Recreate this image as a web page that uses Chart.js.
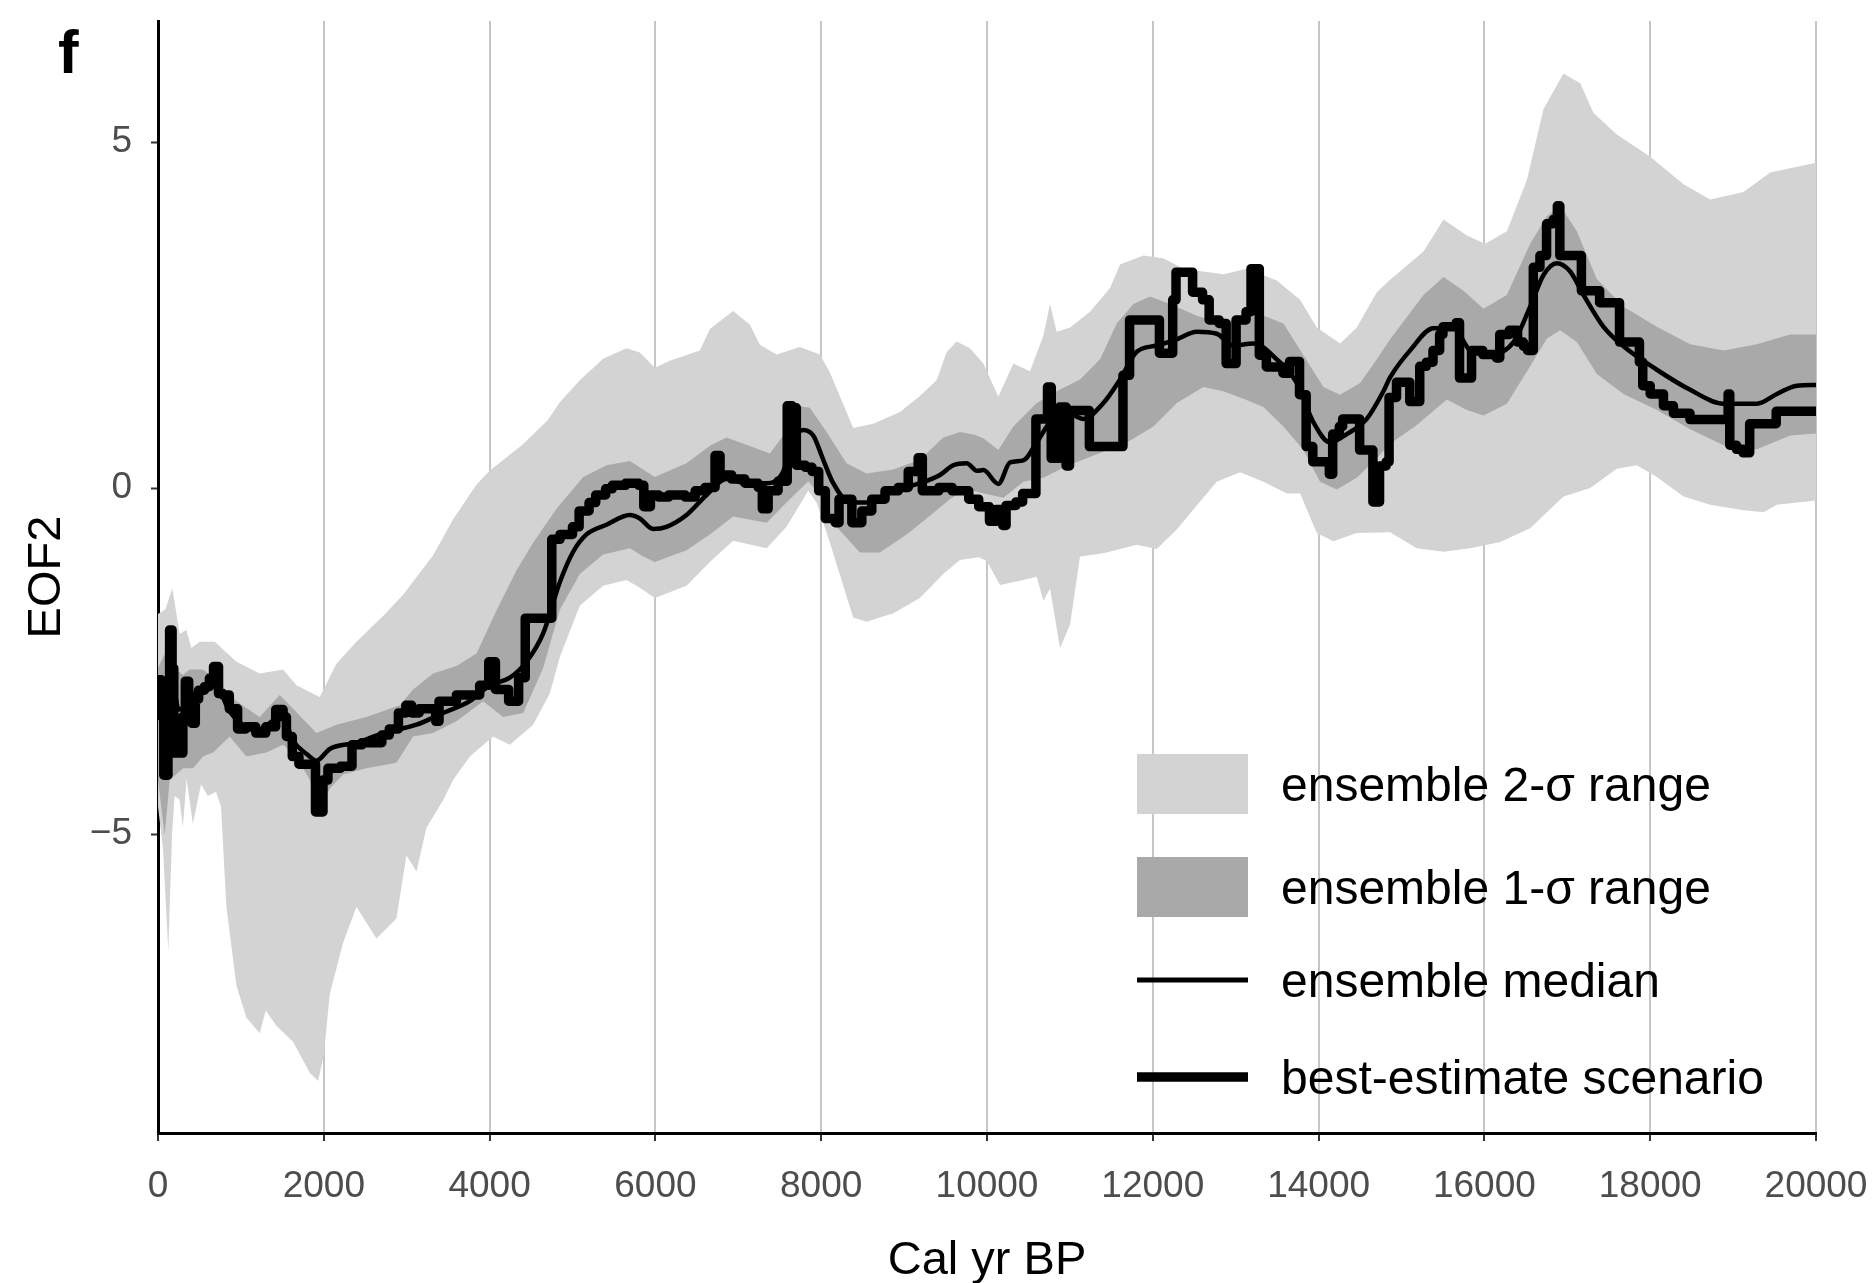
<!DOCTYPE html>
<html>
<head>
<meta charset="utf-8">
<title>EOF2</title>
<script src="https://cdn.jsdelivr.net/npm/chart.js@4.4.1/dist/chart.umd.min.js"></script>
<style>
  html, body { margin: 0; padding: 0; background: #fff; }
  #wrap { width: 1874px; height: 1283px; }
</style>
</head>
<body>
<div id="wrap"><canvas id="eofChart" width="1874" height="1283"></canvas></div>
<script>
// ensemble 2-sigma range
const sigma2UpperYears = [0, 90, 173, 262, 342, 403, 503, 684, 946, 1227, 1509, 1670, 1951, 2152, 2394, 2715, 2957, 3319, 3560, 3842, 4000, 4400, 4700, 4847, 5088, 5370, 5651, 5812, 5993, 6174, 6536, 6657, 6938, 7140, 7260, 7461, 7743, 7984, 8105, 8386, 8628, 8950, 9191, 9392, 9512, 9633, 9794, 9956, 10137, 10318, 10519, 10680, 10760, 10841, 11002, 11243, 11484, 11605, 11886, 12128, 12369, 12852, 13133, 13495, 13777, 13978, 14259, 14460, 14702, 14863, 15265, 15507, 15788, 16009, 16271, 16512, 16713, 16954, 17156, 17316, 17598, 18000, 18402, 18724, 19126, 19448, 20000];
const sigma2Upper = [-1.82, -1.75, -1.45, -2.11, -2.05, -2.31, -2.22, -2.22, -2.51, -2.68, -2.62, -2.85, -3.02, -2.54, -2.22, -1.85, -1.54, -0.97, -0.45, 0.05, 0.25, 0.63, 0.98, 1.24, 1.56, 1.87, 2.02, 1.96, 1.74, 1.84, 1.99, 2.30, 2.56, 2.36, 2.07, 1.93, 2.04, 1.93, 1.67, 0.87, 0.93, 1.10, 1.33, 1.56, 1.96, 2.12, 2.02, 1.80, 1.32, 1.80, 1.69, 2.20, 2.66, 2.26, 2.32, 2.55, 2.89, 3.23, 3.36, 3.32, 3.17, 3.09, 3.17, 3.00, 2.72, 2.32, 2.09, 2.32, 2.83, 3.01, 3.42, 3.88, 3.65, 3.53, 3.71, 4.45, 5.48, 5.99, 5.85, 5.42, 5.11, 4.79, 4.39, 4.17, 4.28, 4.56, 4.70];
const sigma2LowerYears = [0, 60, 124, 170, 200, 260, 300, 345, 420, 520, 600, 700, 760, 825, 946, 1066, 1227, 1300, 1428, 1629, 1831, 1931, 2000, 2072, 2233, 2394, 2635, 2876, 2997, 3118, 3238, 3439, 3560, 3761, 4043, 4244, 4525, 4726, 4847, 5088, 5370, 5651, 5812, 5993, 6375, 6657, 6938, 7341, 7582, 7843, 7944, 8105, 8386, 8547, 8869, 9191, 9472, 9673, 9900, 9996, 10157, 10398, 10600, 10680, 10760, 10881, 11002, 11122, 11404, 11806, 12047, 12289, 12530, 12771, 13053, 13334, 13616, 13777, 13978, 14179, 14460, 14863, 15185, 15507, 15828, 16190, 16552, 16954, 17276, 17598, 17839, 18080, 18402, 18724, 19126, 19368, 19528, 20000];
const sigma2Lower = [-4.6, -5.2, -6.68, -5.0, -4.45, -4.5, -4.9, -4.2, -4.85, -4.28, -4.45, -4.39, -4.6, -6.05, -7.19, -7.65, -7.88, -7.55, -7.77, -8.0, -8.45, -8.57, -8.2, -7.31, -6.57, -6.05, -6.51, -6.22, -5.31, -5.54, -4.91, -4.51, -4.22, -3.88, -3.59, -3.71, -3.42, -2.97, -2.44, -1.70, -1.41, -1.33, -1.44, -1.59, -1.41, -1.07, -0.76, -0.87, -0.56, -0.04, -0.21, -0.79, -1.87, -1.93, -1.81, -1.59, -1.24, -1.04, -1.0, -1.05, -1.40, -1.34, -1.28, -1.63, -1.45, -2.31, -1.97, -0.99, -0.94, -0.82, -0.88, -0.60, -0.25, 0.09, 0.23, 0.09, -0.08, -0.08, -0.65, -0.77, -0.65, -0.64, -0.87, -0.92, -0.87, -0.78, -0.58, -0.12, 0.0, 0.28, 0.33, 0.16, -0.12, -0.24, -0.32, -0.35, -0.24, -0.18];

// ensemble 1-sigma range
const sigma1UpperYears = [0, 60, 141, 200, 300, 383, 543, 704, 946, 1227, 1468, 1589, 1911, 2152, 2514, 2917, 3077, 3319, 3600, 3842, 4083, 4324, 4525, 4807, 5129, 5410, 5692, 5853, 5993, 6375, 6657, 6858, 7180, 7381, 7542, 7702, 7863, 8065, 8306, 8547, 8869, 9191, 9472, 9673, 9850, 9956, 10137, 10318, 10600, 10841, 11122, 11364, 11565, 11766, 11967, 12208, 12530, 12852, 13214, 13576, 13817, 14058, 14259, 14501, 14702, 14863, 15265, 15507, 15748, 15989, 16271, 16552, 16754, 16914, 17115, 17356, 17678, 18080, 18482, 18885, 19287, 19689, 20000];
const sigma1Upper = [-2.6, -2.45, -2.28, -2.6, -2.7, -2.62, -2.62, -2.77, -3.08, -3.31, -2.99, -3.14, -3.54, -3.42, -3.31, -3.14, -2.91, -2.68, -2.57, -2.39, -1.77, -1.19, -0.79, -0.3, 0.16, 0.33, 0.39, 0.27, 0.16, 0.36, 0.61, 0.73, 0.59, 0.50, 0.76, 1.19, 1.16, 0.81, 0.36, 0.21, 0.27, 0.41, 0.73, 0.81, 0.77, 0.72, 0.55, 0.89, 1.23, 1.40, 1.57, 1.86, 2.38, 2.66, 2.77, 2.66, 2.49, 2.38, 2.55, 2.38, 1.92, 1.46, 1.35, 1.52, 1.86, 2.15, 2.79, 3.05, 2.85, 2.59, 2.79, 3.53, 3.93, 4.08, 3.71, 3.02, 2.62, 2.33, 2.08, 1.99, 2.08, 2.22, 2.22];
const sigma1LowerYears = [0, 81, 141, 302, 423, 543, 664, 865, 1066, 1308, 1509, 1670, 1831, 1951, 2072, 2233, 2514, 2876, 3077, 3319, 3600, 3922, 4163, 4405, 4646, 4847, 5088, 5370, 5692, 5853, 5993, 6375, 6657, 6938, 7341, 7582, 7843, 8024, 8185, 8467, 8708, 9030, 9271, 9553, 9754, 9900, 10197, 10439, 10680, 10962, 11324, 11686, 12007, 12289, 12610, 12852, 13093, 13334, 13576, 13817, 14018, 14219, 14460, 14702, 14863, 15185, 15547, 15788, 15989, 16271, 16552, 16754, 16914, 17115, 17356, 17678, 18080, 18482, 18885, 19287, 19689, 20000];
const sigma1Lower = [-4.22, -5.02, -4.22, -4.05, -4.05, -3.88, -3.82, -3.59, -3.88, -3.82, -3.71, -3.88, -4.22, -4.68, -4.34, -4.14, -4.05, -3.97, -3.59, -3.54, -3.37, -3.08, -3.31, -3.25, -2.6, -1.76, -1.24, -0.96, -0.87, -0.99, -1.07, -0.90, -0.67, -0.41, -0.50, -0.21, 0.10, -0.16, -0.56, -0.93, -0.93, -0.67, -0.44, -0.16, -0.01, -0.06, -0.14, 0.09, 0.15, 0.32, 0.49, 0.66, 0.89, 1.23, 1.46, 1.40, 1.29, 1.17, 0.89, 0.55, 0.09, -0.02, 0.15, 0.43, 0.64, 0.91, 1.28, 1.13, 1.05, 1.22, 1.76, 2.16, 2.28, 2.11, 1.65, 1.36, 1.13, 0.85, 0.62, 0.56, 0.76, 0.79];

// ensemble median
const medianYears = [0, 100, 150, 250, 400, 550, 700, 850, 1000, 1200, 1400, 1500, 1629, 1800, 1911, 2072, 2394, 2715, 3118, 3439, 3761, 4003, 4244, 4445, 4646, 4850, 5008, 5169, 5410, 5692, 5812, 5973, 6134, 6375, 6617, 6858, 7099, 7341, 7542, 7662, 7783, 7904, 8024, 8145, 8346, 8547, 8869, 9191, 9432, 9593, 9754, 9880, 9956, 10137, 10278, 10439, 10600, 10760, 10962, 11163, 11404, 11605, 11806, 12047, 12289, 12530, 12771, 12972, 13214, 13495, 13737, 13938, 14139, 14340, 14581, 14782, 14863, 15104, 15386, 15627, 15828, 16070, 16351, 16552, 16713, 16874, 17035, 17196, 17437, 17678, 18080, 18482, 18885, 19287, 19528, 19770, 20000];
const median = [-3.0, -3.3, -2.6, -3.2, -3.1, -2.95, -2.85, -3.2, -3.4, -3.5, -3.35, -3.3, -3.65, -3.85, -3.94, -3.77, -3.68, -3.54, -3.42, -3.25, -3.08, -2.85, -2.74, -2.51, -2.1, -1.35, -0.92, -0.67, -0.53, -0.39, -0.44, -0.59, -0.56, -0.39, -0.10, 0.13, 0.07, 0.07, 0.24, 0.70, 0.84, 0.76, 0.41, 0.07, -0.21, -0.21, -0.04, 0.07, 0.19, 0.33, 0.36, 0.25, 0.26, 0.06, 0.37, 0.40, 0.66, 0.95, 1.09, 1.00, 1.23, 1.57, 1.97, 2.06, 2.15, 2.26, 2.23, 2.06, 2.09, 1.86, 1.52, 0.95, 0.66, 0.78, 1.00, 1.40, 1.6, 1.99, 2.31, 2.31, 1.99, 1.93, 2.11, 2.62, 3.08, 3.25, 3.13, 2.79, 2.33, 2.05, 1.71, 1.42, 1.22, 1.22, 1.36, 1.48, 1.49];

// best-estimate scenario: each value holds from its year to the next one
const bestYears = [0, 40, 70, 120, 140, 170, 190, 300, 330, 370, 410, 450, 490, 560, 620, 670, 730, 780, 860, 960, 1060, 1180, 1300, 1420, 1509, 1549, 1620, 1700, 1900, 1990, 2050, 2200, 2340, 2460, 2700, 2790, 2900, 2990, 3060, 3150, 3350, 3390, 3600, 3880, 3990, 4070, 4230, 4350, 4430, 4750, 4850, 5000, 5080, 5200, 5280, 5400, 5480, 5640, 5800, 5860, 5940, 6040, 6160, 6360, 6480, 6600, 6720, 6780, 6920, 7080, 7240, 7290, 7360, 7480, 7590, 7650, 7700, 7810, 7890, 7970, 8050, 8170, 8215, 8370, 8490, 8610, 8770, 8930, 9050, 9170, 9220, 9420, 9580, 9780, 9900, 10030, 10110, 10190, 10230, 10350, 10430, 10590, 10730, 10775, 10875, 10955, 10995, 11235, 11640, 11720, 12080, 12240, 12280, 12480, 12600, 12680, 12800, 12885, 13005, 13125, 13185, 13285, 13370, 13570, 13650, 13770, 13850, 13930, 14130, 14170, 14250, 14290, 14495, 14655, 14735, 14815, 14850, 14940, 15100, 15220, 15300, 15380, 15460, 15500, 15660, 15700, 15845, 15980, 16145, 16185, 16300, 16400, 16470, 16520, 16590, 16670, 16750, 16830, 16880, 16910, 17170, 17390, 17630, 17870, 17910, 18000, 18160, 18280, 18480, 18940, 18960, 19040, 19120, 19200, 19520, 20000];
const best = [-2.77, -3.3, -4.15, -3.0, -2.05, -2.6, -3.83, -3.3, -2.79, -3.0, -3.4, -3.05, -2.92, -2.87, -2.75, -2.58, -2.97, -2.99, -3.19, -3.48, -3.45, -3.54, -3.45, -3.2, -3.31, -3.59, -3.88, -3.99, -4.68, -4.22, -4.05, -4.02, -3.71, -3.68, -3.57, -3.48, -3.25, -3.14, -3.25, -3.19, -3.37, -3.08, -2.99, -2.85, -2.51, -2.91, -3.08, -2.74, -1.88, -0.74, -0.67, -0.56, -0.33, -0.21, -0.10, -0.01, 0.04, 0.07, 0.04, -0.27, -0.10, -0.13, -0.10, -0.13, -0.04, 0.01, 0.47, 0.19, 0.13, 0.07, 0.01, -0.30, -0.04, 0.10, 1.19, 1.16, 0.33, 0.30, 0.24, -0.04, -0.44, -0.50, -0.16, -0.50, -0.33, -0.16, -0.04, 0.01, 0.24, 0.44, -0.04, 0.01, -0.04, -0.16, -0.27, -0.48, -0.31, -0.54, -0.25, -0.20, -0.08, 1.00, 1.46, 0.43, 1.17, 0.32, 1.12, 0.60, 1.63, 2.43, 1.95, 2.72, 3.12, 2.83, 2.72, 2.43, 2.38, 1.80, 2.43, 2.55, 3.17, 1.92, 1.75, 1.66, 1.83, 1.35, 0.60, 0.38, 0.20, 0.78, 0.89, 1.00, 0.55, -0.20, 0.32, 0.38, 1.31, 1.53, 1.25, 1.76, 1.82, 1.99, 2.22, 2.33, 2.39, 1.59, 1.99, 1.93, 1.88, 2.22, 2.28, 2.11, 2.05, 1.99, 3.19, 3.36, 3.82, 3.88, 4.08, 3.36, 2.85, 2.68, 2.11, 1.82, 1.48, 1.36, 1.19, 1.08, 0.99, 1.36, 0.62, 0.56, 0.51, 0.93, 1.11, 1.11];

const xTicks = [0, 2000, 4000, 6000, 8000, 10000, 12000, 14000, 16000, 18000, 20000];
const yTicks = [-5, 0, 5];

const pts = (xs, ys) => xs.map((x, i) => ({ x: x, y: ys[i] }));
const minus = v => String(v).replace('-', '\u2212');

Chart.defaults.font.family = '"Liberation Sans", Arial, Helvetica, sans-serif';

// legend drawn inside the plot, lower right
const legendRows = [784, 887, 980, 1077];
const insideLegend = {
    id: 'insideLegend',
    afterDraw(chart) {
        const ctx = chart.ctx;
        const items = [
            { ds: chart.data.datasets[0], kind: 'box' },
            { ds: chart.data.datasets[2], kind: 'box' },
            { ds: chart.data.datasets[4], kind: 'line' },
            { ds: chart.data.datasets[5], kind: 'line' }
        ];
        ctx.save();
        items.forEach((it, i) => {
            const cy = legendRows[i];
            if (it.kind === 'box') {
                ctx.fillStyle = it.ds.backgroundColor;
                ctx.fillRect(1137, cy - 30, 111, 60);
            } else {
                ctx.strokeStyle = it.ds.borderColor;
                ctx.lineWidth = it.ds.legendWidth;
                ctx.beginPath();
                ctx.moveTo(1137, cy);
                ctx.lineTo(1248, cy);
                ctx.stroke();
            }
            ctx.fillStyle = '#000';
            ctx.font = '48px "Liberation Sans", Arial, sans-serif';
            ctx.textBaseline = 'alphabetic';
            ctx.fillText(it.ds.label, 1281, cy + 17);
        });
        // panel letter
        ctx.font = 'bold 62px "Liberation Sans", Arial, sans-serif';
        ctx.fillText('f', 58, 73);
        ctx.restore();
    }
};

new Chart(document.getElementById('eofChart').getContext('2d'), {
    type: 'line',
    data: {
        datasets: [
            {
                label: 'ensemble 2-\u03c3 range',
                data: pts(sigma2UpperYears, sigma2Upper),
                backgroundColor: '#d3d3d3',
                borderColor: 'rgba(0,0,0,0)',
                borderWidth: 0,
                fill: { target: 1 },
                order: 3
            },
            {
                label: '2-sigma lower',
                data: pts(sigma2LowerYears, sigma2Lower),
                borderColor: 'rgba(0,0,0,0)',
                borderWidth: 0,
                fill: false,
                order: 3
            },
            {
                label: 'ensemble 1-\u03c3 range',
                data: pts(sigma1UpperYears, sigma1Upper),
                backgroundColor: '#a9a9a9',
                borderColor: 'rgba(0,0,0,0)',
                borderWidth: 0,
                fill: { target: 3 },
                order: 2
            },
            {
                label: '1-sigma lower',
                data: pts(sigma1LowerYears, sigma1Lower),
                borderColor: 'rgba(0,0,0,0)',
                borderWidth: 0,
                fill: false,
                order: 2
            },
            {
                label: 'ensemble median',
                data: pts(medianYears, median),
                borderColor: '#000',
                borderWidth: 4.5,
                legendWidth: 5,
                cubicInterpolationMode: 'monotone',
                fill: false,
                order: 1
            },
            {
                label: 'best-estimate scenario',
                data: pts(bestYears, best),
                borderColor: '#000',
                borderWidth: 9.5,
                legendWidth: 9.5,
                stepped: true,
                borderJoinStyle: 'round',
                fill: false,
                order: 0
            }
        ]
    },
    options: {
        responsive: false,
        animation: false,
        events: [],
        elements: { point: { radius: 0 }, line: { tension: 0 } },
        layout: { padding: { top: 21, right: 58, left: 0, bottom: 0 } },
        plugins: { legend: { display: false }, tooltip: { enabled: false } },
        scales: {
            x: {
                type: 'linear',
                min: 0,
                max: 20000,
                afterBuildTicks: axis => { axis.ticks = xTicks.map(v => ({ value: v })); },
                afterFit: axis => {
                    axis.height = 150;
                    axis.paddingLeft = 0;
                    axis.paddingRight = 0;
                },
                ticks: {
                    autoSkip: false,
                    maxRotation: 0,
                    padding: 24,
                    color: '#4d4d4d',
                    font: { size: 37 },
                    callback: v => minus(v)
                },
                grid: {
                    color: '#c6c6c6',
                    lineWidth: 2,
                    tickLength: 8,
                    tickColor: '#333',
                    tickWidth: 2
                },
                border: { color: '#000', width: 3 },
                title: {
                    display: true,
                    text: 'Cal yr BP',
                    color: '#000',
                    font: { size: 47, lineHeight: 0.95 },
                    padding: { top: 0, bottom: 0 }
                }
            },
            y: {
                type: 'linear',
                min: -9.32,
                max: 6.75,
                afterBuildTicks: axis => { axis.ticks = yTicks.map(v => ({ value: v })); },
                afterFit: axis => {
                    axis.width = 158;
                    axis.paddingTop = 0;
                    axis.paddingBottom = 0;
                },
                ticks: {
                    padding: 19,
                    color: '#4d4d4d',
                    font: { size: 37 },
                    callback: v => minus(v)
                },
                grid: {
                    drawOnChartArea: false,
                    tickLength: 7,
                    tickColor: '#333',
                    tickWidth: 2
                },
                border: { color: '#000', width: 3 },
                title: {
                    display: true,
                    text: 'EOF2',
                    color: '#000',
                    font: { size: 47 },
                    padding: { top: 19, bottom: 0 }
                }
            }
        }
    },
    plugins: [insideLegend]
});
</script>
</body>
</html>
